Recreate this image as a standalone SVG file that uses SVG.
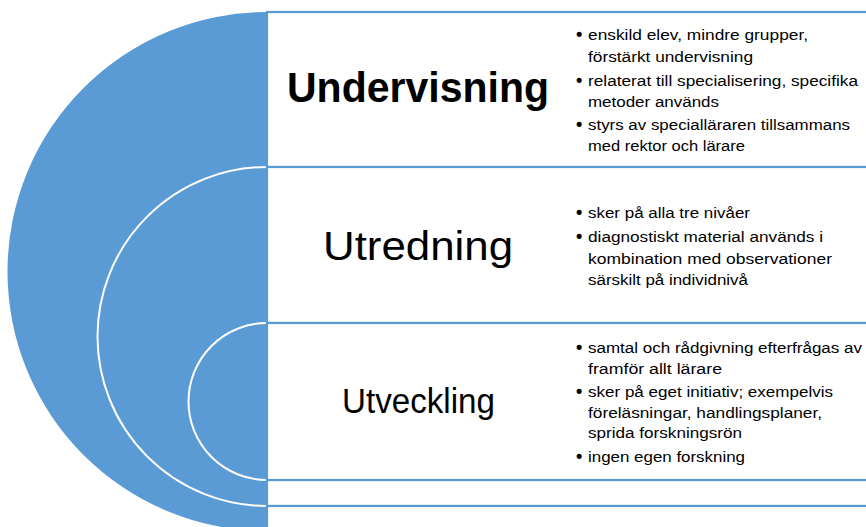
<svg xmlns="http://www.w3.org/2000/svg" width="866" height="527" viewBox="0 0 866 527">
<style>
.box{fill:#ffffff;stroke:#5B9BD5;stroke-width:2.2}
.arc{fill:none;stroke:#ffffff;stroke-width:2}
.title{font-family:"Liberation Sans",Arial,sans-serif;fill:#000;text-anchor:start}
.b{font-family:"Liberation Sans",Arial,sans-serif;font-size:15.5px;fill:#000}
.dot{font-size:18px;font-weight:bold}
</style>
<rect width="866" height="527" fill="#ffffff"/>
<g id="target">
<path d="M267,12 A259.5,259.5 0 0 0 267,531 Z" fill="#5B9BD5"/>
<path class="arc" d="M267,167 A169.5,169.5 0 0 0 267,506"/>
<path class="arc" d="M267,323 A78.5,78.5 0 0 0 267,480"/>
</g>
<g id="extra-boxes">
<rect class="box" x="267" y="480" width="620" height="26"/>
<rect class="box" x="267" y="506" width="620" height="40"/>
</g>
<g id="undervisning">
<rect class="box" x="267" y="12" width="620" height="155"/>
<text class="title" x="287" y="102" font-size="42" font-weight="bold" textLength="262" lengthAdjust="spacingAndGlyphs">Undervisning</text>
<g class="b">
<text class="dot" x="576" y="40">•</text>
<text x="588" y="40" textLength="220" lengthAdjust="spacingAndGlyphs">enskild elev, mindre grupper,</text>
<text x="588" y="62" textLength="165" lengthAdjust="spacingAndGlyphs">förstärkt undervisning</text>
<text class="dot" x="576" y="86">•</text>
<text x="588" y="86" textLength="270" lengthAdjust="spacingAndGlyphs">relaterat till specialisering, specifika</text>
<text x="588" y="107" textLength="131" lengthAdjust="spacingAndGlyphs">metoder används</text>
<text class="dot" x="576" y="130">•</text>
<text x="588" y="130" textLength="262" lengthAdjust="spacingAndGlyphs">styrs av specialläraren tillsammans</text>
<text x="588" y="151" textLength="157" lengthAdjust="spacingAndGlyphs">med rektor och lärare</text>
</g>
</g>
<g id="utredning">
<rect class="box" x="267" y="167" width="620" height="156"/>
<text class="title" x="323" y="260" font-size="40" textLength="190" lengthAdjust="spacingAndGlyphs">Utredning</text>
<g class="b">
<text class="dot" x="576" y="218">•</text>
<text x="588" y="218" textLength="162" lengthAdjust="spacingAndGlyphs">sker på alla tre nivåer</text>
<text class="dot" x="576" y="242">•</text>
<text x="588" y="242" textLength="235" lengthAdjust="spacingAndGlyphs">diagnostiskt material används i</text>
<text x="588" y="264" textLength="244" lengthAdjust="spacingAndGlyphs">kombination med observationer</text>
<text x="588" y="285" textLength="160" lengthAdjust="spacingAndGlyphs">särskilt på individnivå</text>
</g>
</g>
<g id="utveckling">
<rect class="box" x="267" y="323" width="620" height="157"/>
<text class="title" x="342" y="413" font-size="35" textLength="153" lengthAdjust="spacingAndGlyphs">Utveckling</text>
<g class="b">
<text class="dot" x="576" y="353">•</text>
<text x="588" y="353" textLength="274" lengthAdjust="spacingAndGlyphs">samtal och rådgivning efterfrågas av</text>
<text x="588" y="374" textLength="134" lengthAdjust="spacingAndGlyphs">framför allt lärare</text>
<text class="dot" x="576" y="397">•</text>
<text x="588" y="397" textLength="245" lengthAdjust="spacingAndGlyphs">sker på eget initiativ; exempelvis</text>
<text x="588" y="418" textLength="234" lengthAdjust="spacingAndGlyphs">föreläsningar, handlingsplaner,</text>
<text x="588" y="438" textLength="154" lengthAdjust="spacingAndGlyphs">sprida forskningsrön</text>
<text class="dot" x="576" y="462">•</text>
<text x="588" y="462" textLength="157" lengthAdjust="spacingAndGlyphs">ingen egen forskning</text>
</g>
</g>
</svg>
